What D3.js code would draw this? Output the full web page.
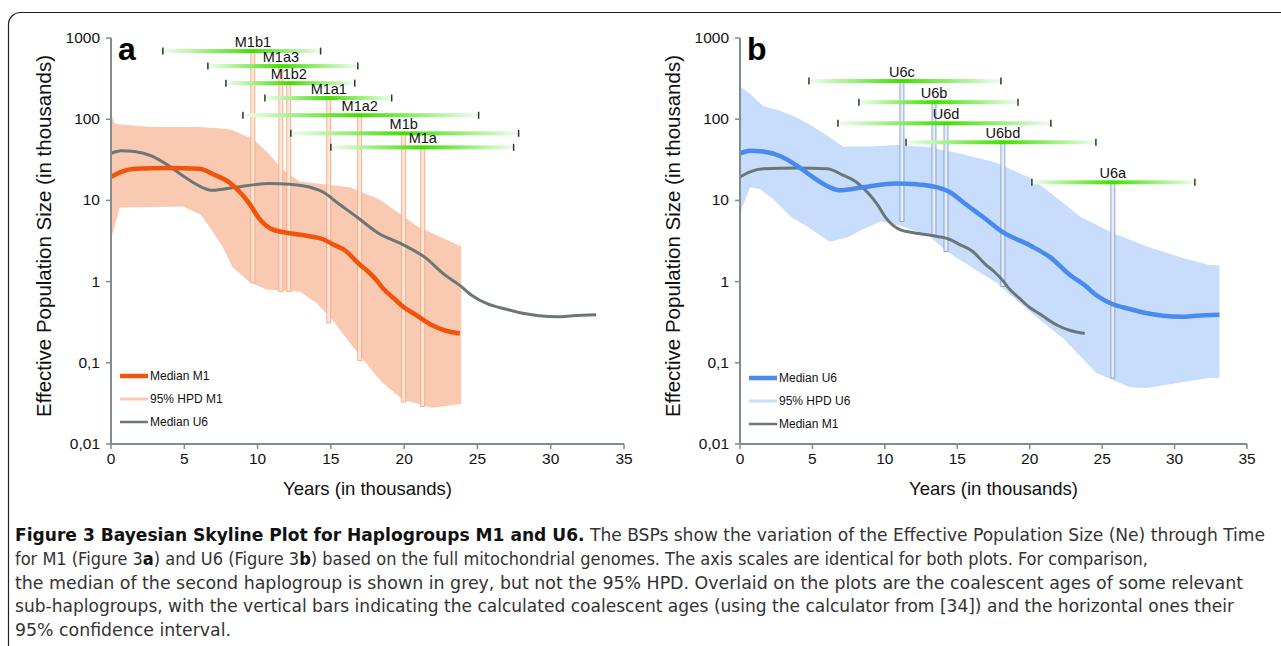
<!DOCTYPE html>
<html>
<head>
<meta charset="utf-8">
<script src="https://cdn.jsdelivr.net/npm/d3@7"></script>
<style>
body { margin: 0; background: #fff; }
svg { display: block; font-family: "Liberation Sans", Arial, Helvetica, sans-serif; }
</style>
</head>
<body>
<script>
// effective population size (thousands) through time (thousands of years)
let m1Median = [[0,19.5],[0.7,22.5],[1.6,24.5],[3.9,25],[6.0,24.5],[7.1,20.5],[8.0,17],[9.0,11.5],[9.5,8.8],[10.1,6.0],[11.0,4.4],[12.0,4.0],[13.6,3.6],[14.5,3.3],[15.1,2.9],[16.0,2.4],[17.0,1.6],[17.5,1.35],[18.2,1.0],[18.5,0.85],[19.3,0.62],[20.0,0.48],[20.7,0.40],[21.9,0.29],[22.8,0.25],[23.8,0.23]];
let m1Upper = [[0,115],[0.3,87],[2.7,80],[6,80],[8.1,75],[9.7,57],[10.8,37],[11.7,24],[12.9,17],[14.2,16],[16.3,14.5],[18.3,10.3],[20.9,4.8],[22.4,3.6],[23.9,2.7]];
let m1Lower = [[0,3.3],[0.6,8.2],[4.9,8.4],[6.1,6.7],[6.7,4.8],[7.6,2.7],[8.3,1.5],[9.5,0.97],[10.6,0.8],[12.9,0.75],[14.0,0.55],[15.1,0.34],[17.0,0.12],[18.5,0.057],[19.9,0.035],[21.9,0.028],[23.9,0.031]];

let u6Median = [[0,38],[0.7,41],[1.6,40],[2.8,35],[3.9,27],[5.0,19.5],[6.2,14.5],[6.9,13.3],[8.5,14.5],[10.8,16.2],[12.2,15.8],[13.6,14.5],[14.5,12.6],[15.4,9.5],[16.8,6.2],[18.2,4.0],[20.0,2.8],[21.4,2.0],[22.8,1.2],[23.8,0.9],[24.6,0.68],[25.7,0.53],[26.9,0.46],[28.0,0.41],[29.2,0.38],[30.5,0.37],[31.5,0.38],[33.1,0.39]];
let u6Upper = [[0,255],[0.7,204],[1.6,145],[2.8,126],[3.9,106],[5.0,82],[6.2,60],[7.1,46],[9.0,46],[10.8,48],[13.1,45],[15.4,37],[17.7,29],[20.0,19],[21.2,13.3],[23.5,6.3],[25.7,4.0],[28.1,2.7],[30.4,2.0],[32.4,1.6],[33.1,1.58]];
let u6Lower = [[0,5],[0.1,7.7],[0.7,14.5],[1.4,13.7],[2.3,10.3],[3.5,6.3],[4.6,4.8],[6.2,3.1],[7.4,3.5],[8.5,4.4],[9.7,5.5],[11.2,4.8],[13.1,3.6],[14.3,2.35],[15.9,1.53],[17.7,0.97],[19.3,0.55],[20.7,0.34],[22.3,0.2],[24.6,0.075],[26.9,0.05],[28.1,0.049],[30.4,0.057],[32.4,0.065],[33.1,0.065]];

// coalescent ages of sub-haplogroups
let m1Clades = ['M1b1','M1a3','M1b2','M1a1','M1a2','M1b','M1a'];
let m1Ages   = [9.68, 11.59, 12.13, 14.86, 16.97, 19.97, 21.27];
let m1Low    = [3.54, 6.61, 7.84, 10.5, 9.0, 12.27, 15.0];
let m1High   = [14.3, 16.84, 16.63, 19.15, 25.08, 27.81, 27.47];
let m1Level  = [690, 451, 278, 182, 112, 67, 45];
let m1Floor  = [0.97, 0.75, 0.75, 0.31, 0.106, 0.033, 0.029];

let u6Clades = ['U6c','U6b','U6d','U6bd','U6a'];
let u6Ages   = [11.18, 13.39, 14.22, 18.15, 25.74];
let u6Low    = [4.76, 8.21, 6.76, 11.46, 20.15];
let u6High   = [18.01, 19.19, 21.46, 24.57, 31.4];
let u6Level  = [295, 162, 89, 52, 16.7];
let u6Floor  = [5.5, 3.6, 2.35, 0.87, 0.065];

let xTicks = [0,5,10,15,20,25,30,35];
let yTicks = [0.01,0.1,1,10,100,1000];
let yTickLabels = ['0,01','0,1','1','10','100','1000'];

let captionLines = [
  [['Figure 3 Bayesian Skyline Plot for Haplogroups M1 and U6.', true], [' The BSPs show the variation of the Effective Population Size (Ne) through Time', false]],
  [['for M1 (Figure 3', false], ['a', true], [') and U6 (Figure 3', false], ['b', true], [') based on the full mitochondrial genomes. The axis scales are identical for both plots. For comparison,', false]],
  [['the median of the second haplogroup is shown in grey, but not the 95% HPD. Overlaid on the plots are the coalescent ages of some relevant', false]],
  [['sub-haplogroups, with the vertical bars indicating the calculated coalescent ages (using the calculator from [34]) and the horizontal ones their', false]],
  [['95% confidence interval.', false]]
];
let captionWidths = [1250, 1133, 1228, 1219, 216];

let width = 1281;
let height = 646;

let svg = d3.select('body')
.append('svg')
.attr('width', width)
.attr('height', height);

let defs = svg.append('defs');

svg.append('rect')
.attr('x', 8.5).attr('y', 12.5)
.attr('width', 1300).attr('height', 660)
.attr('rx', 12)
.attr('fill', 'none')
.attr('stroke', '#222')
.attr('stroke-width', 1.2);

let y = d3.scaleLog()
.domain([0.01, 1000])
.range([444, 38]);

let axisColor = '#7d8e8e';

function drawPanel(p){
    let x = d3.scaleLinear().domain([0, 35]).range(p.range);
    let g = svg.append('g');

    let line = d3.line()
    .x(d => x(d[0]))
    .y(d => y(d[1]))
    .curve(d3.curveMonotoneX);

    let poly = d3.line()
    .x(d => x(d[0]))
    .y(d => y(d[1]));

    // 95% HPD band
    g.append('path')
    .attr('d', poly(p.upper.concat(p.lower.slice().reverse())) + 'Z')
    .attr('fill', p.hpdColor);

    // vertical bars: coalescent ages
    p.ages.forEach(function(a, i){
        g.append('rect')
        .attr('x', x(a) - 2)
        .attr('y', y(p.level[i]))
        .attr('width', 4)
        .attr('height', y(p.floor[i]) - y(p.level[i]))
        .attr('fill', p.barFill)
        .attr('stroke', p.barStroke)
        .attr('stroke-width', 0.8);
    });

    g.append('path')
    .attr('d', line(p.other))
    .attr('fill', 'none')
    .attr('stroke', '#6b7777')
    .attr('stroke-width', 3);

    g.append('path')
    .attr('d', line(p.median))
    .attr('fill', 'none')
    .attr('stroke', p.medianColor)
    .attr('stroke-width', 4.5);

    // horizontal bars: 95% confidence intervals
    p.ages.forEach(function(a, i){
        let x0 = x(p.low[i]), x1 = x(p.high[i]);
        let yy = y(p.level[i]);
        let id = 'grad-' + p.letter + i;
        let grad = defs.append('linearGradient')
        .attr('id', id)
        .attr('gradientUnits', 'userSpaceOnUse')
        .attr('x1', x0).attr('x2', x1)
        .attr('y1', 0).attr('y2', 0);
        let f = (x(a) - x0) / (x1 - x0);
        grad.append('stop').attr('offset', 0).attr('stop-color', '#effdef');
        grad.append('stop').attr('offset', f).attr('stop-color', '#3fe000');
        grad.append('stop').attr('offset', 1).attr('stop-color', '#effdef');

        g.append('rect')
        .attr('x', x0).attr('y', yy - 2)
        .attr('width', x1 - x0).attr('height', 4)
        .attr('fill', 'url(#' + id + ')');

        [x0, x1].forEach(function(xe){
            g.append('line')
            .attr('x1', xe).attr('x2', xe)
            .attr('y1', yy - 3.5).attr('y2', yy + 3.5)
            .attr('stroke', '#333')
            .attr('stroke-width', 1.5);
        });

        g.append('text')
        .attr('x', x(a))
        .attr('y', yy - 4)
        .attr('text-anchor', 'middle')
        .attr('font-size', 14.5)
        .attr('fill', '#111')
        .text(p.clades[i]);
    });

    // axes
    let x0 = p.range[0];
    g.append('line')
    .attr('x1', x0).attr('x2', x0)
    .attr('y1', y(1000)).attr('y2', y(0.01))
    .attr('stroke', axisColor).attr('stroke-width', 2);
    g.append('line')
    .attr('x1', x0).attr('x2', p.range[1])
    .attr('y1', y(0.01)).attr('y2', y(0.01))
    .attr('stroke', axisColor).attr('stroke-width', 2);

    yTicks.forEach(function(t, i){
        g.append('line')
        .attr('x1', x0 - 5).attr('x2', x0)
        .attr('y1', y(t)).attr('y2', y(t))
        .attr('stroke', axisColor).attr('stroke-width', 1.5);
        g.append('text')
        .attr('x', x0 - 11)
        .attr('y', y(t) + 5)
        .attr('text-anchor', 'end')
        .attr('font-size', 15.5)
        .attr('fill', '#111')
        .text(yTickLabels[i]);
    });

    xTicks.forEach(function(t){
        g.append('line')
        .attr('x1', x(t)).attr('x2', x(t))
        .attr('y1', y(0.01)).attr('y2', y(0.01) + 5)
        .attr('stroke', axisColor).attr('stroke-width', 1.5);
        g.append('text')
        .attr('x', x(t))
        .attr('y', 464)
        .attr('text-anchor', 'middle')
        .attr('font-size', 15.5)
        .attr('fill', '#111')
        .text(t);
    });

    g.append('text')
    .attr('x', (p.range[0] + p.range[1]) / 2)
    .attr('y', 495)
    .attr('text-anchor', 'middle')
    .attr('font-size', 18.5)
    .attr('fill', '#111')
    .text('Years (in thousands)');

    g.append('text')
    .attr('transform', 'translate(' + (x0 - 60) + ',236) rotate(-90)')
    .attr('text-anchor', 'middle')
    .attr('font-size', 20.5)
    .attr('fill', '#111')
    .text('Effective Population Size (in thousands)');

    g.append('text')
    .attr('x', x0 + 7)
    .attr('y', 60)
    .attr('font-size', 32)
    .attr('font-weight', 'bold')
    .attr('fill', '#000')
    .text(p.letter);

    // legend
    p.legend.forEach(function(l, i){
        let ly = p.legendY + i * 23;
        g.append('line')
        .attr('x1', x0 + 9).attr('x2', x0 + 37)
        .attr('y1', ly).attr('y2', ly)
        .attr('stroke', l[1]).attr('stroke-width', l[2]);
        g.append('text')
        .attr('x', x0 + 39)
        .attr('y', ly + 4)
        .attr('font-size', 12)
        .attr('fill', '#111')
        .text(l[0]);
    });
}

drawPanel({
    letter: 'a', range: [111, 624],
    upper: m1Upper, lower: m1Lower, median: m1Median, other: u6Median,
    hpdColor: '#f9c9b1', medianColor: '#f2530a',
    barFill: '#fde6d6', barStroke: '#f3a27a',
    clades: m1Clades, ages: m1Ages, low: m1Low, high: m1High, level: m1Level, floor: m1Floor,
    legendY: 376,
    legend: [['Median M1', '#f2530a', 4.5], ['95% HPD M1', '#f9c9b1', 3], ['Median U6', '#6b7777', 2.5]]
});

drawPanel({
    letter: 'b', range: [740, 1247],
    upper: u6Upper, lower: u6Lower, median: u6Median, other: m1Median,
    hpdColor: '#c7ddfb', medianColor: '#4889f2',
    barFill: '#e2ecfa', barStroke: '#8096c2',
    clades: u6Clades, ages: u6Ages, low: u6Low, high: u6High, level: u6Level, floor: u6Floor,
    legendY: 378,
    legend: [['Median U6', '#4889f2', 4.5], ['95% HPD U6', '#c7ddfb', 3], ['Median M1', '#6b7777', 2.5]]
});

// caption
let caption = svg.append('g')
.attr('font-family', '"Liberation Sans Narrow", "DejaVu Sans Condensed", "Liberation Sans", sans-serif')
.attr('font-stretch', 'condensed')
.attr('font-size', 18)
.attr('fill', '#333');

captionLines.forEach(function(parts, i){
    let t = caption.append('text')
    .attr('x', 15)
    .attr('y', 541 + i * 23.8)
    .attr('textLength', captionWidths[i])
    .attr('lengthAdjust', 'spacingAndGlyphs');
    parts.forEach(function(s){
        t.append('tspan')
        .attr('font-weight', s[1] ? 'bold' : 'normal')
        .attr('fill', s[1] ? '#111' : '#333')
        .text(s[0]);
    });
});
</script>
</body>
</html>
